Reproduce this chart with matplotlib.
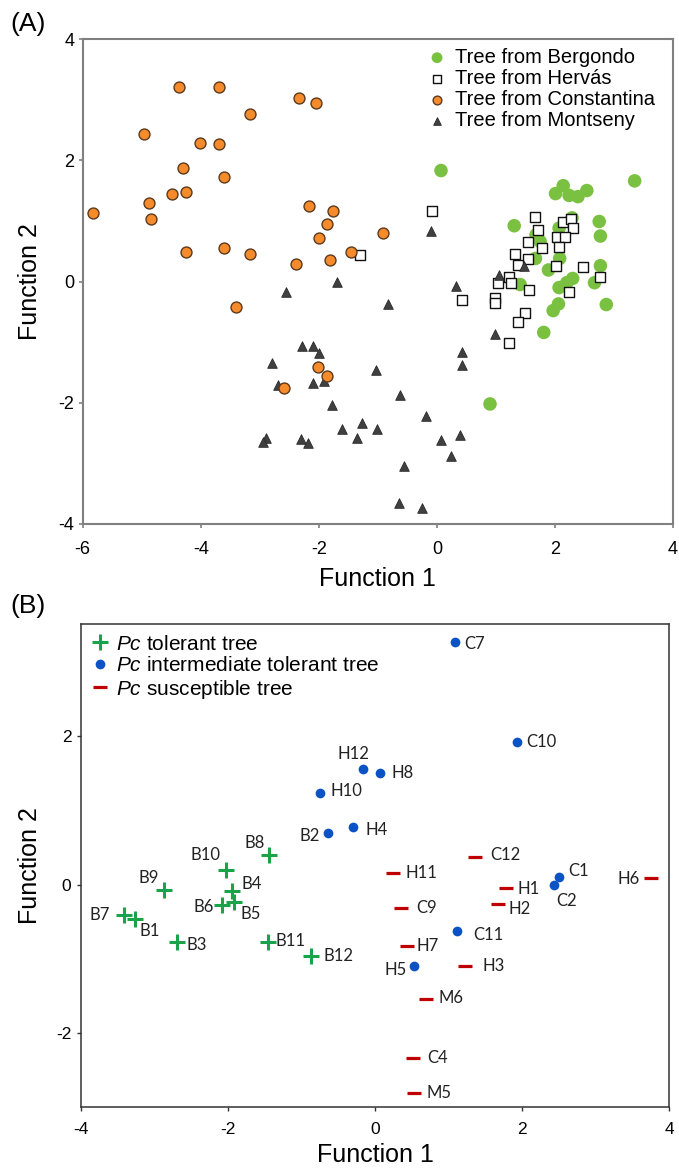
import matplotlib
matplotlib.use("Agg")
import matplotlib.pyplot as plt

# ---------------- Panel A data ----------------
bergondo_x = [0.07, 3.35, 2.14, 2.01, 2.24, 2.39, 2.54, 1.31, 2.29, 2.75, 2.77, 2.07, 1.68, 1.75,
              1.67, 2.08, 1.89, 2.77, 2.30, 2.20, 2.07, 1.41, 2.67, 2.87, 2.06, 1.97, 1.81, 0.90]
bergondo_y = [1.83, 1.66, 1.58, 1.45, 1.42, 1.40, 1.50, 0.92, 1.05, 0.99, 0.75, 0.88, 0.77, 0.66,
              0.38, 0.38, 0.19, 0.26, 0.05, -0.02, -0.10, -0.05, -0.02, -0.38, -0.37, -0.48, -0.84, -2.02]

hervas_x = [-1.30, -0.08, 1.66, 2.13, 2.28, 2.31, 1.71, 2.03, 2.17, 1.54, 1.78, 2.07, 1.33, 1.54,
            1.38, 2.02, 2.47, 2.76, 1.22, 1.04, 1.25, 1.56, 2.24, 0.42, 0.99, 0.98, 1.50, 1.37, 1.22]
hervas_y = [0.43, 1.17, 1.06, 0.98, 1.03, 0.89, 0.85, 0.73, 0.73, 0.65, 0.56, 0.57, 0.46, 0.37,
            0.27, 0.26, 0.24, 0.08, 0.08, -0.02, -0.02, -0.14, -0.18, -0.31, -0.28, -0.35, -0.52, -0.67, -1.01]

constantina_x = [-4.37, -3.69, -2.34, -2.05, -3.16, -4.97, -4.02, -3.69, -4.30, -3.60, -4.49, -4.25,
                 -4.88, -5.83, -4.85, -2.16, -1.76, -1.86, -1.99, -0.92, -4.25, -3.60, -3.16, -2.39,
                 -1.81, -1.46, -3.40, -2.01, -1.86, -2.59]
constantina_y = [3.21, 3.21, 3.03, 2.95, 2.76, 2.43, 2.29, 2.27, 1.88, 1.72, 1.44, 1.47,
                 1.29, 1.13, 1.03, 1.24, 1.17, 0.95, 0.72, 0.80, 0.48, 0.56, 0.46, 0.29,
                 0.36, 0.48, -0.42, -1.41, -1.56, -1.76]

montseny_x = [-1.70, -2.55, -2.29, -2.10, -2.00, -2.80, -2.69, -2.10, -1.92, -1.03, -1.78, -1.61,
              -1.27, -1.02, -1.35, -2.90, -2.94, -2.31, -2.19, 0.98, 0.42, 0.42, -0.62, -0.19,
              0.07, 0.39, 0.24, -0.55, -0.64, -0.26, -0.10, 1.47, 1.06, 0.32, -0.82]
montseny_y = [-0.01, -0.18, -1.06, -1.06, -1.18, -1.35, -1.71, -1.68, -1.64, -1.46, -2.03, -2.44,
              -2.34, -2.44, -2.58, -2.58, -2.64, -2.60, -2.67, -0.87, -1.17, -1.37, -1.88, -2.22,
              -2.62, -2.53, -2.88, -3.04, -3.66, -3.73, 0.83, 0.25, 0.11, -0.07, -0.37]

a_ticks_x = [-6, -4, -2, 0, 2, 4]
a_ticks_y = [-4, -2, 0, 2, 4]
a_legend = ["Tree from Bergondo", "Tree from Hervás", "Tree from Constantina", "Tree from Montseny"]

# ---------------- Panel B data ----------------
tol_names = ["B1", "B3", "B4", "B5", "B6", "B7", "B8", "B9", "B10", "B11", "B12"]
tol_x = [-3.26, -2.69, -1.95, -1.92, -2.08, -3.41, -1.44, -2.87, -2.03, -1.46, -0.87]
tol_y = [-0.47, -0.77, -0.09, -0.23, -0.27, -0.41, 0.40, -0.08, 0.20, -0.77, -0.97]

int_names = ["B2", "H4", "H12", "H10", "H8", "C7", "C10", "C1", "C2", "C11", "H5"]
int_x = [-0.64, -0.30, -0.17, -0.75, 0.07, 1.09, 1.93, 2.51, 2.44, 1.11, 0.53]
int_y = [0.70, 0.78, 1.56, 1.23, 1.51, 3.27, 1.92, 0.10, 0.00, -0.62, -1.10]

sus_names = ["C12", "H11", "H1", "H2", "C9", "H7", "H3", "M6", "C4", "M5", "H6"]
sus_x = [1.36, 0.24, 1.78, 1.67, 0.35, 0.43, 1.22, 0.70, 0.52, 0.53, 3.75]
sus_y = [0.37, 0.16, -0.05, -0.26, -0.31, -0.83, -1.10, -1.54, -2.34, -2.81, 0.085]

b_ticks_x = [-4, -2, 0, 2, 4]
b_ticks_y = [-2, 0, 2]
b_legend = [r"$\mathit{Pc}$ tolerant tree", r"$\mathit{Pc}$ intermediate tolerant tree",
            r"$\mathit{Pc}$ susceptible tree"]

# label offsets (pixels: right, down) -- layout only
label_off = {
    "B8": (-14, -12), "B10": (-20, -15), "B9": (-15, -12), "B4": (20, -7), "B6": (-18, 2),
    "B5": (17, 12), "B7": (-25, 0), "B1": (14, 12), "B3": (19, 3), "B11": (23, -1),
    "B12": (27, 0), "B2": (-18, 3), "H4": (24, 3), "H12": (-9, -15), "H10": (27, -2),
    "H8": (22, 0), "C7": (19, 2), "C10": (25, 0), "C12": (30, -2), "H11": (29, 0),
    "H1": (23, 1), "H2": (22, 5), "C9": (26, 0), "C11": (32, 4), "H7": (21, 0),
    "H5": (-18, 4), "H3": (29, 0), "M6": (25, -1), "C4": (24, 0), "M5": (25, 0),
    "H6": (-22, 1), "C1": (19, -6), "C2": (12, 16),
}

plt.rcParams['font.family'] = ['Liberation Sans', 'DejaVu Sans']
plt.rcParams['axes.unicode_minus'] = False
plt.rcParams['mathtext.fontset'] = 'custom'
plt.rcParams['mathtext.it'] = 'Liberation Sans:italic'
plt.rcParams['mathtext.rm'] = 'Liberation Sans'

W, H = 679, 1173
fig = plt.figure(figsize=(W / 100, H / 100), dpi=100)

# ---------------- Panel A ----------------
axA = fig.add_axes([82.7 / W, 1 - 524 / H, 590.3 / W, 485 / H])
green = "#7AC142"
orange = "#F68B2C"
tri = "#404040"
hG = axA.scatter(bergondo_x, bergondo_y, s=95, c=green, edgecolors='none', zorder=2)
hH = axA.scatter(hervas_x, hervas_y, s=58, marker='s', facecolors='white', edgecolors='#111111',
                 linewidths=1.0, zorder=3)
hM = axA.scatter(montseny_x, montseny_y, s=48, marker='^', c=tri, edgecolors='#2a2a2a',
                 linewidths=0.6, zorder=4)
hC = axA.scatter(constantina_x, constantina_y, s=62, c=orange, edgecolors='#5B3A1E',
                 linewidths=1.0, zorder=5)
axA.set_xlim(-6, 4)
axA.set_ylim(-4, 4)
axA.set_xticks(a_ticks_x)
axA.set_yticks(a_ticks_y)
for sp in axA.spines.values():
    sp.set_color('#808080')
    sp.set_linewidth(1.5)
axA.tick_params(axis='both', direction='out', length=3, width=1.2, color='#808080', labelsize=13)
axA.tick_params(axis='x', pad=9)
axA.tick_params(axis='y', pad=3)
axA.set_xlabel("Function 1", fontsize=18)
axA.set_ylabel("Function 2", fontsize=18)
axA.xaxis.set_label_coords(0.5, (524 - 567) / 485.0)
axA.yaxis.set_label_coords((42 - 82.7) / 590.3, 0.5)

axA.legend([hG, hH, hC, hM], a_legend, loc='upper left',
           bbox_to_anchor=((429 - 82.7) / 590.3, (524 - 48) / 485),
           frameon=False, fontsize=14.5, handlelength=0.8, handletextpad=0.5,
           labelspacing=0.1, borderpad=0, borderaxespad=0, scatterpoints=1,
           markerscale=0.8)
fig.text(28 / W, 1 - 24 / H, "(A)", fontsize=19, ha='center', va='center')

# ---------------- Panel B ----------------
axB = fig.add_axes([81 / W, 1 - 1107 / H, 588 / W, 482.7 / H])
bgreen = "#1BA34A"
bblue = "#0B52C5"
bred = "#C00000"
lT, = axB.plot(tol_x, tol_y, linestyle='none', marker='+', markersize=11, markeredgewidth=2.2,
               color=bgreen, zorder=3)
lI, = axB.plot(int_x, int_y, linestyle='none', marker='o', markersize=7, color=bblue,
               markeredgewidth=0, zorder=3)
lS, = axB.plot(sus_x, sus_y, linestyle='none', marker='_', markersize=10, markeredgewidth=2.3,
               color=bred, zorder=3)

names_all = tol_names + int_names + sus_names
xs_all = tol_x + int_x + sus_x
ys_all = tol_y + int_y + sus_y
for n, x, y in zip(names_all, xs_all, ys_all):
    dx, dy = label_off[n]
    axB.annotate(n, (x, y), xytext=(dx * 0.72, -dy * 0.72), textcoords='offset points',
                 ha='center', va='center', fontsize=12, family=['Lato', 'DejaVu Sans'],
                 color='#222222', zorder=4)

axB.set_xlim(-4, 4)
axB.set_ylim(-3.0, 3.51)
axB.set_xticks(b_ticks_x)
axB.set_yticks(b_ticks_y)
for sp in axB.spines.values():
    sp.set_color('#333333')
    sp.set_linewidth(1.1)
axB.tick_params(axis='both', direction='out', length=3, width=1.0, color='#333333', labelsize=12.5)
axB.tick_params(axis='x', pad=8)
axB.tick_params(axis='y', pad=4)
axB.set_xlabel("Function 1", fontsize=18)
axB.set_ylabel("Function 2", fontsize=18)
axB.xaxis.set_label_coords(0.5, (1107 - 1143) / 482.7)
axB.yaxis.set_label_coords((42 - 81) / 588, 0.5)

axB.legend([lT, lI, lS], b_legend,
           loc='upper left', bbox_to_anchor=((91.7 - 81) / 588, (1107 - 634.7) / 482.7),
           frameon=False, fontsize=15, handlelength=0.8, handletextpad=0.35,
           labelspacing=0.12, borderpad=0, borderaxespad=0, numpoints=1)
fig.text(28 / W, 1 - 606 / H, "(B)", fontsize=19, ha='center', va='center')

fig.savefig("out.png", dpi=100)
